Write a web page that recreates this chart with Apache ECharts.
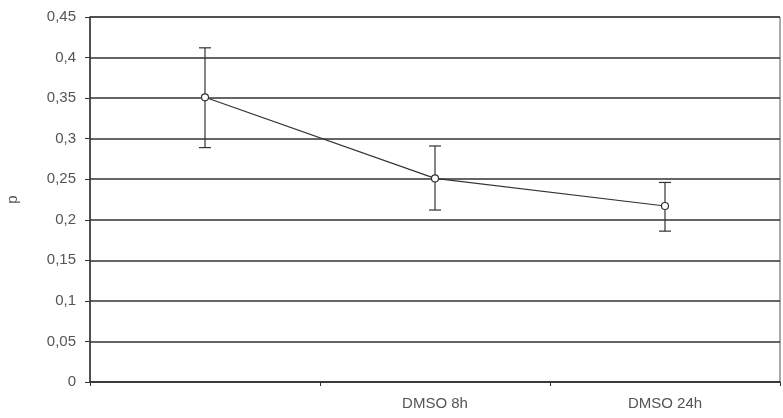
<!DOCTYPE html>
<html><head><meta charset="utf-8">
<script src="https://cdn.jsdelivr.net/npm/echarts@6/dist/echarts.min.js"></script>
<style>html,body{margin:0;padding:0;background:#fff}#c{width:783px;height:418px}</style>
</head><body><div id="c"></div>
<script>
var categories = ['', 'DMSO 8h', 'DMSO 24h'];
var means = [0.351, 0.251, 0.217];
var lowerErr = [0.289, 0.212, 0.186];
var upperErr = [0.412, 0.291, 0.246];
var yTicks = [0, 0.05, 0.1, 0.15, 0.2, 0.25, 0.3, 0.35, 0.4, 0.45];

var errData = categories.map(function(c, i){ return [i, lowerErr[i], upperErr[i]]; });
var chart = echarts.init(document.getElementById('c'));
chart.setOption({
  animation: false,
  backgroundColor: '#fff',
  grid: {left: 90, right: 3, top: 17, bottom: 36, show: true, borderColor: '#555', borderWidth: 1,
    containLabel: false, outerBoundsMode: 'none'},
  xAxis: {
    type: 'category', data: categories, boundaryGap: true,
    axisLine: {lineStyle: {color: '#333', width: 1.5}},
    axisTick: {show: true, length: 4, lineStyle: {color: '#333'}},
    axisLabel: {color: '#555', fontFamily: 'Liberation Sans', fontSize: 15, margin: 14},
    splitLine: {show: false}
  },
  yAxis: {
    type: 'value', min: 0, max: 0.45, interval: 0.05,
    name: 'p', nameLocation: 'middle', nameGap: 70, nameRotate: 90,
    nameTextStyle: {color: '#555', fontFamily: 'Liberation Sans', fontSize: 15},
    axisLine: {show: true, lineStyle: {color: '#333', width: 1.5}},
    axisTick: {show: true, length: 5, lineStyle: {color: '#333'}},
    axisLabel: {color: '#555', fontFamily: 'Liberation Sans', fontSize: 15, margin: 14,
      formatter: function(v){ return String(+v.toFixed(2)).replace('.', ','); }},
    splitLine: {show: true, lineStyle: {color: '#333', width: 1.5}}
  },
  series: [
    {
      type: 'custom', data: errData, z: 3,
      renderItem: function(params, api){
        var x = api.value(0);
        var lo = api.coord([x, api.value(1)]);
        var hi = api.coord([x, api.value(2)]);
        var hw = 6;
        var st = {stroke: '#333', lineWidth: 1.2};
        return {type: 'group', children: [
          {type: 'line', shape: {x1: lo[0], y1: lo[1], x2: hi[0], y2: hi[1]}, style: st},
          {type: 'line', shape: {x1: lo[0]-hw, y1: lo[1], x2: lo[0]+hw, y2: lo[1]}, style: st},
          {type: 'line', shape: {x1: hi[0]-hw, y1: hi[1], x2: hi[0]+hw, y2: hi[1]}, style: st}
        ]};
      }
    },
    {
      type: 'line', data: means, z: 5,
      symbol: 'circle', symbolSize: 7, showAllSymbol: true,
      lineStyle: {color: '#333', width: 1.2},
      itemStyle: {color: '#fff', borderColor: '#333', borderWidth: 1.2}
    }
  ]
});
</script></body></html>
